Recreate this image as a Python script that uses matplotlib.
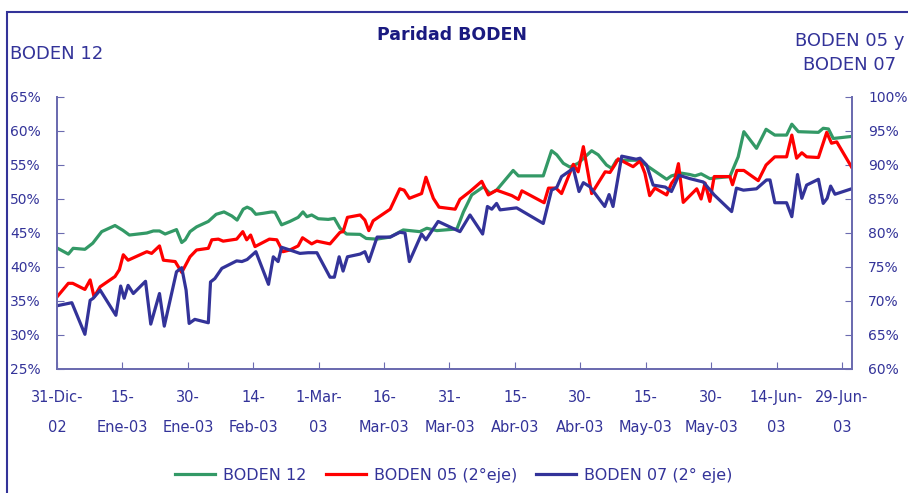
import matplotlib
matplotlib.use("Agg")
import matplotlib.pyplot as plt
from matplotlib.patches import Rectangle
from matplotlib.ticker import FuncFormatter

# days counted from 31-Dic-02, values in %
b12_days = [0, 2.6, 3.7, 6.4, 8.2, 10.25, 13.3, 15.1, 16.6, 20.6, 22.1, 23.5, 24.8, 27.4, 28.6,
            29.4, 30.5, 32.0, 34.7, 36.5, 38.3, 40.1, 41.3, 42.7, 43.6, 44.6, 45.6, 47.3, 49.2,
            50.0, 51.5, 53.4, 55.3, 56.4, 57.3, 58.4, 59.9, 62.2, 63.6, 64.9, 66.4, 69.5, 70.9,
            73.3, 76.4, 79.4, 83.2, 84.8, 87.1, 91.7, 93.2, 95.1, 97.8, 99.3, 100.8, 104.6, 105.8,
            111.5, 113.4, 114.6, 116.1, 117.6, 119.5, 122.6, 124.1, 126.0, 127.2, 128.3, 133.3,
            135.6, 139.8, 140.9, 143.2, 145.1, 146.3, 147.7, 149.7, 154.3, 156.2, 157.5, 160.4,
            162.6, 164.6, 167.3, 168.5, 170.0, 174.6, 175.7, 176.9, 178.0, 182.2]
b12_vals = [42.8, 41.9, 42.75, 42.6, 43.5, 45.2, 46.1, 45.4, 44.7, 45.0, 45.3, 45.3, 44.85, 45.5, 43.6,
            44.0, 45.2, 45.9, 46.7, 47.75, 48.1, 47.5, 46.9, 48.5, 48.8, 48.5, 47.75, 47.9, 48.1,
            48.05, 46.2, 46.7, 47.3, 48.1, 47.4, 47.65, 47.1, 47.0, 47.15, 45.7, 44.85, 44.8, 44.2,
            44.1, 44.4, 45.45, 45.2, 45.7, 45.35, 45.6, 48.1, 50.6, 51.8, 50.8, 51.3, 54.2, 53.4,
            53.4, 57.1, 56.5, 55.25, 54.7, 55.25, 57.1, 56.5, 55.0, 54.5, 55.7, 55.7,
            54.75, 52.9, 53.4, 53.8, 53.6, 53.4, 53.7, 53.0, 53.3, 56.2, 59.9, 57.45,
            60.25, 59.4, 59.4, 61.0, 59.9, 59.8, 60.4, 60.3, 58.9, 59.2]

b05_days = [0, 2.6, 3.6, 6.4, 7.6, 8.5, 9.9, 13.3, 14.3, 15.2, 16.3, 20.6, 21.7, 23.5, 24.4, 27.1,
            28.6, 30.5, 32.0, 34.7, 35.5, 37.0, 38.1, 41.2, 42.6, 43.5, 44.4, 45.4, 48.7, 50.4,
            51.8, 53.4, 55.3, 56.3, 58.4, 59.6, 62.6, 64.9, 65.6, 66.6, 69.5, 70.6, 71.5, 72.5,
            76.4, 78.6, 79.6, 80.8, 83.6, 84.6, 86.3, 87.6, 91.3, 92.4, 94.7, 97.4, 98.9, 100.8,
            104.3, 105.8, 106.6, 111.7, 112.7, 114.4, 115.7, 118.4, 119.5, 120.7, 122.6, 125.7,
            126.8, 127.9, 128.7, 132.1, 133.7, 134.8, 135.9, 137.1, 139.8, 140.9, 141.7, 142.5,
            143.6, 146.7, 147.7, 148.6, 149.7, 150.7, 154.3, 154.9, 155.9, 157.5, 160.8, 162.6,
            164.6, 167.3, 168.5, 169.6, 170.8, 171.9, 174.6, 176.5, 177.6, 178.8, 182.2]
b05_vals = [70.6, 72.6, 72.6, 71.7, 73.1, 70.6, 72.1, 73.6, 74.6, 76.8, 76.0, 77.25, 77.0, 78.1, 76.0, 75.8,
            74.2, 76.5, 77.5, 77.75, 79.0, 79.1, 78.8, 79.1, 80.2, 79.0, 79.7, 78.0, 79.1, 79.0,
            77.25, 77.5, 78.1, 79.3, 78.4, 78.8, 78.4, 80.1, 80.2, 82.3, 82.65, 81.9, 80.35, 81.8,
            83.5, 86.5, 86.3, 85.1, 85.8, 88.2, 85.1, 83.8, 83.5, 84.95, 86.1, 87.6, 85.6, 86.3,
            85.5, 84.95, 86.2, 84.45, 86.6, 86.6, 85.8, 90.1, 89.0, 92.7, 85.8, 89.0,
            88.9, 90.0, 90.9, 89.75, 90.6, 88.8, 85.5, 86.6, 85.6, 87.3, 88.0, 90.2,
            84.5, 86.5, 85.0, 87.35, 84.65, 88.3, 88.3, 87.1, 89.2, 89.2, 87.7, 90.0,
            91.2, 91.2, 94.4, 91.0, 91.8, 91.2, 91.1, 94.8, 93.2, 93.4, 89.7]

b07_days = [0, 3.4, 6.4, 7.6, 8.3, 9.9, 13.5, 14.6, 15.4, 16.3, 17.5, 20.3, 21.5, 23.5, 24.6, 27.4,
            28.6, 29.6, 30.3, 31.6, 34.7, 35.2, 36.2, 37.8, 41.2, 42.4, 43.6, 45.6, 48.5, 49.6,
            50.7, 51.5, 53.4, 55.7, 57.6, 59.6, 62.6, 63.6, 64.7, 65.6, 66.6, 69.5, 70.6, 71.5,
            73.4, 76.4, 78.6, 79.8, 80.8, 83.6, 84.6, 87.4, 92.4, 94.7, 97.6, 98.7, 99.7, 100.8,
            101.6, 105.4, 111.5, 113.4, 114.6, 115.7, 118.4, 119.7, 120.7, 122.2, 125.6, 126.6,
            127.5, 129.5, 132.8, 133.7, 135.2, 136.7, 139.5, 140.9, 142.6, 145.1, 148.2, 150.7,
            154.7, 155.8, 157.4, 160.4, 162.7, 163.5, 164.6, 167.3, 168.5, 169.8, 170.8, 171.9,
            174.6, 175.7, 176.6, 177.4, 178.4, 182.2]
b07_vals = [69.3, 69.75, 65.1, 70.1, 70.4, 71.6, 67.9, 72.2, 70.4, 72.3, 71.1, 72.9, 66.6, 71.1, 66.3, 74.3,
            74.9, 71.6, 66.7, 67.3, 66.8, 72.8, 73.3, 74.8, 75.9, 75.8, 76.1, 77.25, 72.45, 76.5,
            75.8, 77.9, 77.5, 77.0, 77.1, 77.1, 73.5, 73.5, 76.5, 74.4, 76.5, 76.9, 77.25, 75.8,
            79.4, 79.4, 80.1, 80.0, 75.8, 79.85, 79.0, 81.7, 80.2, 82.65, 79.85, 83.9, 83.5, 84.35,
            83.4, 83.7, 81.4, 86.3, 86.7, 88.3, 89.5, 86.1, 87.4, 86.8, 83.9, 85.65,
            83.9, 91.3, 90.85, 91.0, 90.0, 87.05, 86.75, 86.1, 88.5, 88.0, 87.5, 85.6,
            83.15, 86.6, 86.3, 86.5, 87.8, 87.8, 84.45, 84.45, 82.4, 88.6, 85.1, 87.05,
            87.9, 84.35, 85.1, 86.9, 85.7, 86.5]

tick_days = list(range(0, 181, 15))
tick_labels = ["31-Dic-\n02", "15-\nEne-03", "30-\nEne-03", "14-\nFeb-03", "1-Mar-\n03",
               "16-\nMar-03", "31-\nMar-03", "15-\nAbr-03", "30-\nAbr-03", "15-\nMay-03",
               "30-\nMay-03", "14-Jun-\n03", "29-Jun-\n03"]

navy = "#333399"
spine_col = "#6b6bb0"

fig = plt.figure(figsize=(9.08, 4.93), dpi=100)
ax = fig.add_axes([57 / 908, 1 - 369 / 493, 795 / 908, 272 / 493])
ax2 = ax.twinx()

ax.plot(b12_days, b12_vals, color="#339966", lw=2.3, label="BODEN 12")
ax2.plot(b05_days, b05_vals, color="#ff0000", lw=2.3, label="BODEN 05 (2°eje)")
ax2.plot(b07_days, b07_vals, color="#333399", lw=2.3, label="BODEN 07 (2° eje)")

ax.set_xlim(0, 182.3)
ax.set_ylim(25, 65)
ax2.set_ylim(60, 100)
ax.set_yticks(range(25, 66, 5))
ax2.set_yticks(range(60, 101, 5))
pct = FuncFormatter(lambda v, p: "%d%%" % v)
ax.yaxis.set_major_formatter(pct)
ax2.yaxis.set_major_formatter(pct)
ax.set_xticks(tick_days)
ax.set_xticklabels(tick_labels, fontsize=10.5, color=navy, linespacing=2.3)

for a in (ax, ax2):
    for s in a.spines.values():
        s.set_color(spine_col)
        s.set_linewidth(1.3)
    a.spines["top"].set_visible(False)
ax.tick_params(axis="x", direction="in", length=5, color=spine_col, pad=15)
ax.tick_params(axis="y", direction="in", length=5, color=spine_col, labelcolor=navy,
               labelsize=10, pad=11.5)
ax2.tick_params(axis="y", direction="in", length=5, color=spine_col, labelcolor=navy,
                labelsize=10, pad=11.5)

fig.text(452 / 908, 1 - 35 / 493, "Paridad BODEN", ha="center", va="center",
         fontsize=12.5, fontweight="bold", color="#1a1a80")
fig.text(10 / 908, 1 - 54 / 493, "BODEN 12", ha="left", va="center", fontsize=13, color=navy)
fig.text(850 / 908, 1 - 53 / 493, "BODEN 05 y\nBODEN 07", ha="center", va="center",
         fontsize=13, color=navy, linespacing=1.45)

h1, l1 = ax.get_legend_handles_labels()
h2, l2 = ax2.get_legend_handles_labels()
leg = fig.legend(h1 + h2, l1 + l2, loc="center", bbox_to_anchor=(0.5, 1 - 475 / 493), ncol=3,
                 frameon=False, handlelength=2.5, handletextpad=0.5, columnspacing=1.2,
                 prop={"size": 11.5})
for t in leg.get_texts():
    t.set_color(navy)

fig.add_artist(Rectangle((7 / 908, -0.1), 1.2, 1 - 12 / 493 + 0.1, transform=fig.transFigure,
                         fill=False, edgecolor=navy, lw=1.5))

fig.savefig("out.png", dpi=100)
